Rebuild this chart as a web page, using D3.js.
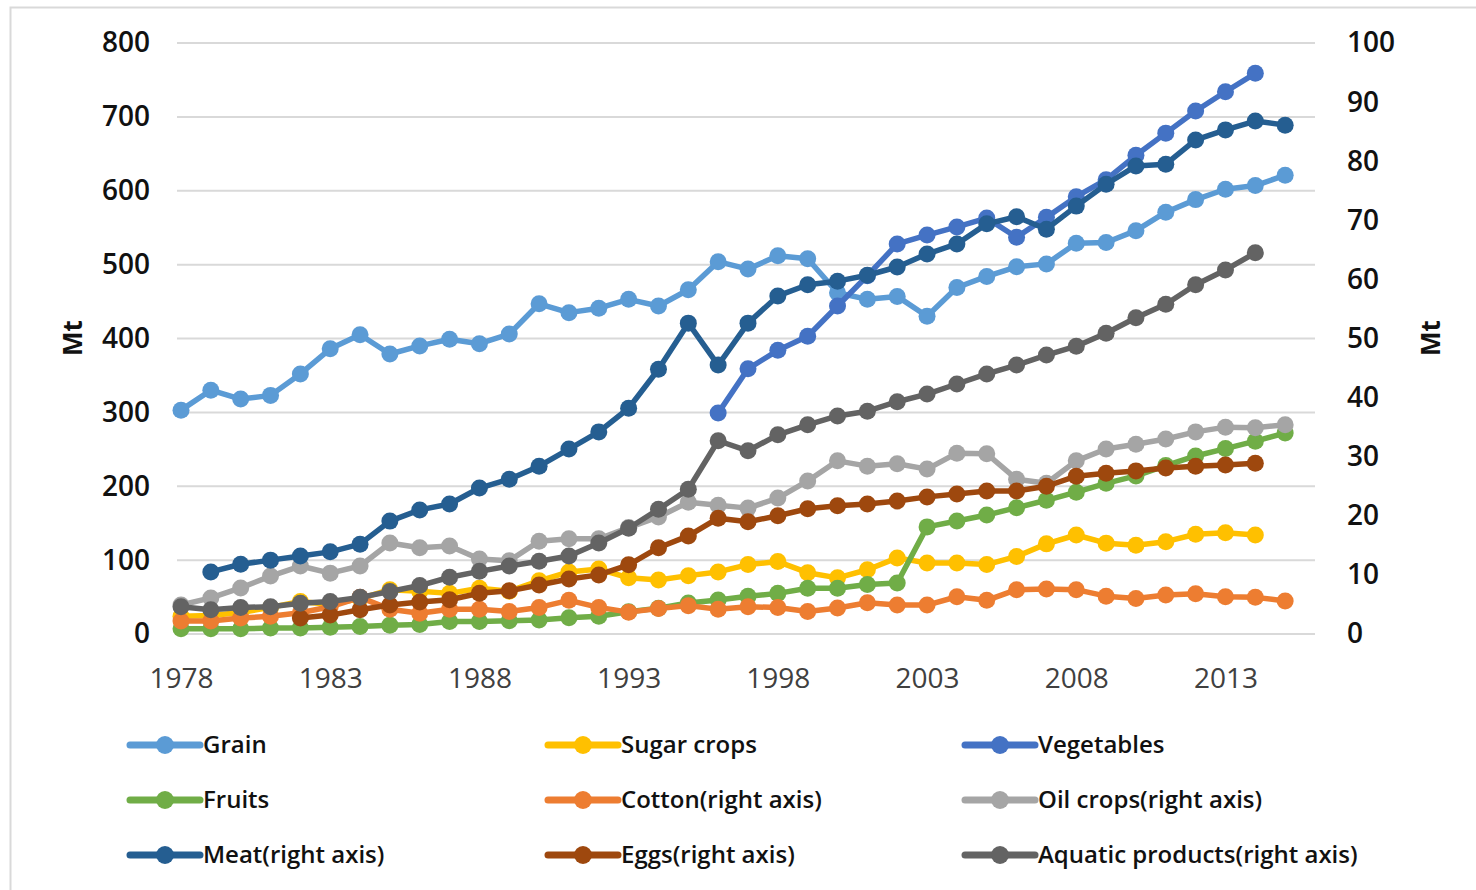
<!DOCTYPE html>
<html>
<head>
<meta charset="utf-8">
<script src="https://cdn.jsdelivr.net/npm/d3@7"></script>
<style>
  body { margin: 0; background: #fff; }
  svg { display: block; font-family: "Open Sans", sans-serif; }
</style>
</head>
<body>
<script>
let width = 1476,
    height = 890;

let years = [1978,1979,1980,1981,1982,1983,1984,1985,1986,1987,1988,1989,1990,1991,1992,1993,1994,1995,1996,1997,
             1998,1999,2000,2001,2002,2003,2004,2005,2006,2007,2008,2009,2010,2011,2012,2013,2014,2015];
let xTicks = [1978, 1983, 1988, 1993, 1998, 2003, 2008, 2013];
let leftTicks = [0, 100, 200, 300, 400, 500, 600, 700, 800];
let rightTicks = [0, 10, 20, 30, 40, 50, 60, 70, 80, 90, 100];

// left axis (Mt)
let grain = [303,330,318,323,352,386,405,379,390,399,393,406,447,435,441,453,444,466,504,494,
             512,508,462,453,457,430,469,484,497,501,529,530,546,571,588,602,607,621];
let sugar = [24,25,29,36,44,40,48,60,58,55,62,58,72,84,88,76,73,79,84,94,
             98,83,76,87,103,96,96,94,105,122,134,123,120,125,135,137,134,null];
let vegetables = [null,null,null,null,null,null,null,null,null,null,null,null,null,null,null,null,null,null,
             299,359,384,403,444,485,528,540,551,563,537,564,592,615,648,678,708,734,759,null];
let fruits = [7,7,7,8,8,9,10,12,13,17,17,18,19,22,24,30,35,42,46,51,
             55,62,62,67,69,145,153,161,171,181,192,204,214,228,241,251,261,272];
// right axis (Mt)
let cotton = [2.2,2.2,2.7,3.0,3.6,4.6,6.2,4.2,3.5,4.2,4.2,3.8,4.5,5.7,4.5,3.7,4.3,4.8,4.2,4.6,
             4.5,3.8,4.4,5.3,4.9,4.9,6.3,5.7,7.5,7.6,7.5,6.4,6.0,6.6,6.8,6.3,6.2,5.6];
let oil = [4.9,6.1,7.8,9.8,11.5,10.3,11.5,15.4,14.6,14.9,12.7,12.4,15.7,16.1,16.1,18.0,19.8,22.3,21.8,21.3,
             23.0,25.9,29.3,28.4,28.8,27.9,30.6,30.5,26.2,25.5,29.3,31.3,32.1,33.0,34.2,35.0,34.9,35.4];
let meat = [null,10.5,11.8,12.5,13.2,13.9,15.2,19.1,21.0,22.0,24.7,26.2,28.4,31.3,34.2,38.2,44.8,52.6,45.5,52.6,
             57.2,59.1,59.7,60.7,62.1,64.3,66.0,69.4,70.6,68.5,72.4,76.1,79.2,79.5,83.6,85.3,86.8,86.1];
let eggs = [null,null,null,null,2.7,3.2,4.1,4.9,5.4,5.8,6.9,7.3,8.3,9.3,10.0,11.7,14.6,16.6,19.6,19.0,
             20.0,21.2,21.7,22.0,22.5,23.2,23.7,24.2,24.2,25.0,26.7,27.2,27.6,28.1,28.4,28.6,28.9,null];
let aquatic = [4.6,4.1,4.5,4.6,5.2,5.5,6.2,7.2,8.2,9.6,10.6,11.5,12.3,13.2,15.4,17.9,21.1,24.5,32.7,31.0,
             33.7,35.4,36.9,37.7,39.3,40.6,42.3,44.0,45.5,47.2,48.7,50.9,53.5,55.8,59.1,61.6,64.5,null];

let series = [
  {name: "Grain", values: grain, axis: "left", color: "#5B9BD5"},
  {name: "Sugar crops", values: sugar, axis: "left", color: "#FFC000"},
  {name: "Vegetables", values: vegetables, axis: "left", color: "#4472C4"},
  {name: "Fruits", values: fruits, axis: "left", color: "#70AD47"},
  {name: "Cotton(right axis)", values: cotton, axis: "right", color: "#ED7D31"},
  {name: "Oil crops(right axis)", values: oil, axis: "right", color: "#A5A5A5"},
  {name: "Meat(right axis)", values: meat, axis: "right", color: "#255E91"},
  {name: "Eggs(right axis)", values: eggs, axis: "right", color: "#9E480E"},
  {name: "Aquatic products(right axis)", values: aquatic, axis: "right", color: "#636363"}
];

let svg = d3.select("body")
            .append("svg")
            .attr("width", width)
            .attr("height", height);

// chart border
svg.append("rect")
   .attr("x", 10.5).attr("y", 7.5)
   .attr("width", 1470).attr("height", 900)
   .attr("fill", "none")
   .attr("stroke", "#D9D9D9")
   .attr("stroke-width", 2);

let xScale = d3.scaleLinear().domain([1978, 2016]).range([181, 1315]);
let yLeft = d3.scaleLinear().domain([0, 800]).range([634, 43]);
let yRight = d3.scaleLinear().domain([0, 100]).range([634, 43]);

// gridlines
svg.append("g")
   .selectAll("line")
   .data(leftTicks)
   .enter()
   .append("line")
   .attr("x1", 177).attr("x2", 1315)
   .attr("y1", d => yLeft(d)).attr("y2", d => yLeft(d))
   .attr("stroke", "#D9D9D9")
   .attr("stroke-width", 2);

// left axis
let leftAxis = svg.append("g")
   .attr("transform", "translate(150,0)")
   .call(d3.axisLeft(yLeft).tickValues(leftTicks).tickSize(0).tickPadding(0));
leftAxis.select(".domain").remove();
leftAxis.selectAll("text")
   .attr("font-family", "Open Sans").attr("font-size", 28).attr("font-weight", 600)
   .attr("fill", "#111");

// right axis
let rightAxis = svg.append("g")
   .attr("transform", "translate(1347,0)")
   .call(d3.axisRight(yRight).tickValues(rightTicks).tickSize(0).tickPadding(0));
rightAxis.select(".domain").remove();
rightAxis.selectAll("text")
   .attr("font-family", "Open Sans").attr("font-size", 28).attr("font-weight", 600)
   .attr("fill", "#111");

// x axis
let xAxis = svg.append("g")
   .attr("transform", "translate(0,668)")
   .call(d3.axisBottom(xScale).tickValues(xTicks).tickFormat(d3.format("d")).tickSize(0).tickPadding(0));
xAxis.select(".domain").remove();
xAxis.selectAll("text")
   .attr("font-family", "Open Sans").attr("font-size", 28)
   .attr("fill", "#404040");

// axis titles
svg.append("text")
   .attr("transform", "translate(82,338) rotate(-90)")
   .attr("text-anchor", "middle")
   .attr("font-size", 26).attr("font-weight", 700)
   .attr("fill", "#111")
   .text("Mt");
svg.append("text")
   .attr("transform", "translate(1440,338) rotate(-90)")
   .attr("text-anchor", "middle")
   .attr("font-size", 26).attr("font-weight", 700)
   .attr("fill", "#111")
   .text("Mt");

// lines and markers
series.forEach(function(s) {
  let y = s.axis === "left" ? yLeft : yRight;
  let pts = years.map((yr, i) => ({year: yr, v: s.values[i]})).filter(d => d.v !== null);
  let line = d3.line()
               .x(d => xScale(d.year))
               .y(d => y(d.v));
  let g = svg.append("g");
  g.append("path")
   .datum(pts)
   .attr("d", line)
   .attr("fill", "none")
   .attr("stroke", s.color)
   .attr("stroke-width", 5.5)
   .attr("stroke-linejoin", "round");
  g.selectAll("circle")
   .data(pts)
   .enter()
   .append("circle")
   .attr("cx", d => xScale(d.year))
   .attr("cy", d => y(d.v))
   .attr("r", 8.5)
   .attr("fill", s.color);
});

// legend
let colX = [130, 548, 965],
    rowY = [745, 800, 855];
let legend = svg.append("g")
   .selectAll("g")
   .data(series)
   .enter()
   .append("g")
   .attr("transform", (d, i) => "translate(" + colX[i % 3] + "," + rowY[Math.floor(i / 3)] + ")");
legend.append("line")
   .attr("x1", 0).attr("x2", 70)
   .attr("stroke", d => d.color)
   .attr("stroke-width", 7)
   .attr("stroke-linecap", "round");
legend.append("circle")
   .attr("cx", 35)
   .attr("r", 9)
   .attr("fill", d => d.color);
legend.append("text")
   .attr("x", 73)
   .attr("dy", "0.35em")
   .attr("font-size", 24).attr("font-weight", 600)
   .attr("fill", "#111")
   .text(d => d.name);
</script>
</body>
</html>
